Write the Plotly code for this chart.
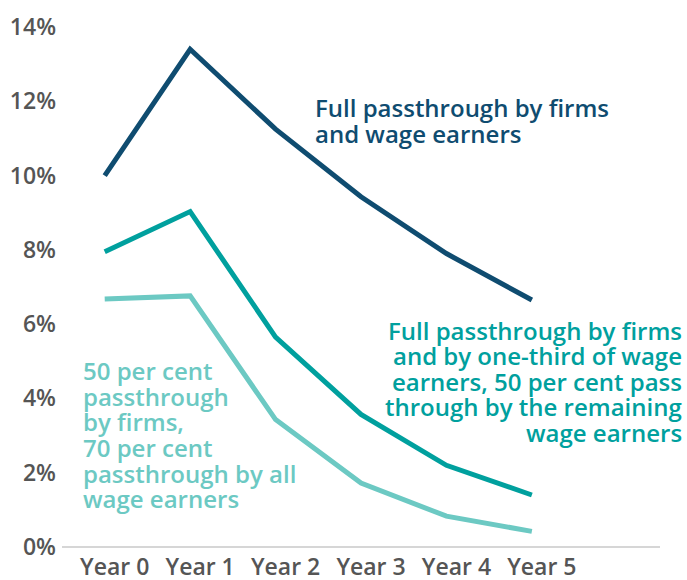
import plotly.graph_objects as go

# chart data
years = ["Year 0", "Year 1", "Year 2", "Year 3", "Year 4", "Year 5"]
full_pass = [10.0, 13.4, 11.25, 9.43, 7.9, 6.65]
third_pass = [7.95, 9.03, 5.65, 3.57, 2.2, 1.4]
partial_pass = [6.68, 6.76, 3.43, 1.72, 0.83, 0.42]

tick_vals = [0, 2, 4, 6, 8, 10, 12, 14]
tick_text = ["0%", "2%", "4%", "6%", "8%", "10%", "12%", "14%"]

full_label = ["Full passthrough by firms", "and wage earners"]
third_label = ["Full passthrough by firms", "and by one-third of wage",
               "earners, 50 per cent pass", "through by the remaining",
               "wage earners"]
partial_label = ["50 per cent", "passthrough", "by firms,", "70 per cent",
                 "passthrough by all", "wage earners"]

navy = "#0f4c70"
teal = "#00a09e"
light = "#6cc9c3"
font = "Open Sans"

fig = go.Figure()
for vals, col in [(partial_pass, light), (third_pass, teal), (full_pass, navy)]:
    fig.add_trace(go.Scatter(x=years, y=vals, mode="lines",
                             line=dict(color=col, width=5),
                             showlegend=False, hoverinfo="skip"))


def add_label(lines, x, y_top, anchor, col):
    # one annotation per line so the leading can be kept tight
    for i, txt in enumerate(lines):
        fig.add_annotation(text=txt, xref="paper", x=x, y=y_top - i * 0.69,
                           xanchor=anchor, yanchor="middle", showarrow=False,
                           borderpad=0,
                           font=dict(family=font, size=24, color=col, weight=600))


add_label(full_label, 0.421, 11.83, "left", navy)
add_label(third_label, 1.039, 5.84, "right", teal)
add_label(partial_label, 0.033, 4.75, "left", light)

fig.update_layout(
    width=687, height=580,
    margin=dict(l=62, r=27, t=27, b=33),
    plot_bgcolor="white", paper_bgcolor="white",
    font=dict(family=font, size=23, color="#555555"),
    xaxis=dict(range=[-0.5, 6.5], showgrid=False, zeroline=False,
               showline=False, ticks="", automargin=False,
               ticklabelshift=10, ticklabelstandoff=4,
               tickfont=dict(size=23, weight=600)),
    yaxis=dict(range=[0, 14], tickvals=tick_vals, ticktext=tick_text,
               showgrid=False, zeroline=True, zerolinecolor="#d6d6d6",
               zerolinewidth=2, showline=False, ticks="", ticklabelstandoff=5,
               automargin=False, tickfont=dict(size=23, weight=600)),
)

# drop the default page margin so the figure fills the window
fig.write_html("out.html", config={"displayModeBar": False},
               post_script="document.body.style.margin='0';document.body.style.overflow='hidden';")
